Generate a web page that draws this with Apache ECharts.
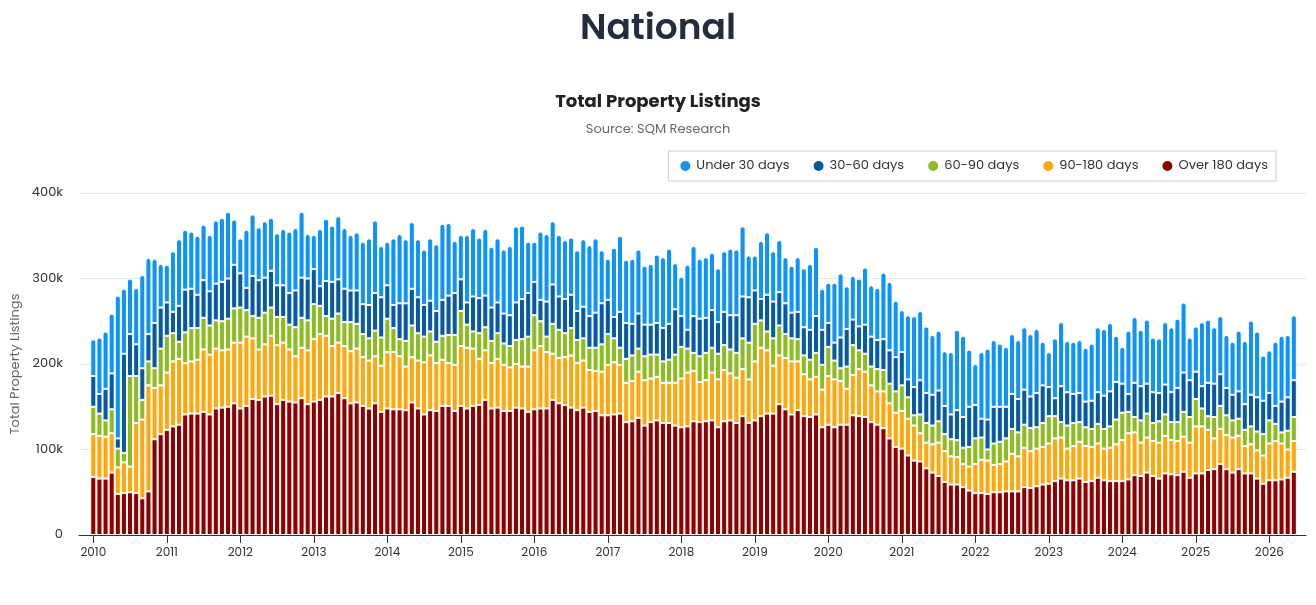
<!DOCTYPE html>
<html>
<head>
<meta charset="utf-8">
<script src="https://cdn.jsdelivr.net/npm/echarts@6/dist/echarts.min.js"></script>
<style>
html,body{margin:0;padding:0;background:#fff;}
#chart{width:1316px;height:605px;}
</style>
</head>
<body>
<div id="chart"></div>
<script>
// Values in thousands of listings, monthly from Jan 2010 to May 2026
const over180 = [
68,66,66,73,48,49,50,49,43,51,
112,118,123,127,129,141,142,142,144,141,
148,149,150,154,148,151,159,158,162,163,
153,158,156,155,160,153,156,158,162,162,
166,160,154,155,151,148,154,144,148,147,
147,146,155,148,141,146,145,151,151,145,
151,148,151,152,158,148,149,145,145,149,
148,144,147,148,148,158,154,152,149,146,
149,144,145,140,140,141,142,132,133,137,
128,132,134,131,131,128,126,127,133,132,
133,134,126,133,134,131,139,131,134,139,
142,142,153,147,141,146,139,138,141,126,
129,126,129,129,140,139,138,132,129,125,
113,103,101,93,87,86,78,73,69,62,
59,59,56,52,49,49,48,50,50,51,
51,51,56,55,57,59,60,63,66,64,
64,66,62,63,67,64,63,63,63,65,
70,69,73,69,66,72,71,70,74,67,
72,72,76,77,83,77,73,77,72,72,
66,60,64,64,65,67,74];
const d90to180 = [
50,50,49,46,31,36,30,82,92,124,
60,57,67,76,77,60,61,63,73,70,
70,67,67,71,77,81,71,59,61,70,
69,67,61,54,59,63,73,77,71,59,
59,61,61,63,57,56,55,54,66,67,
62,51,53,56,61,64,56,54,50,54,
70,71,67,54,58,53,57,54,51,51,
49,53,69,73,66,54,53,56,61,55,
55,49,47,51,59,61,57,46,47,54,
53,51,51,47,47,50,57,63,59,47,
48,56,56,60,55,53,55,51,69,80,
74,56,57,60,62,57,49,44,44,44,
57,56,51,42,47,55,53,43,39,43,
41,40,44,43,41,33,30,33,39,36,
33,32,27,28,34,39,39,32,33,35,
44,41,46,43,44,44,47,50,48,37,
40,43,42,40,40,37,39,43,48,54,
50,39,41,41,42,44,40,40,41,41,
55,55,47,36,41,40,41,39,32,34,
33,33,43,46,42,33,36];
const d60to90 = [
32,26,19,28,22,11,106,55,23,28,
23,43,43,33,20,36,39,37,37,34,
33,34,36,40,41,31,26,37,37,33,
33,30,29,34,35,35,41,33,23,32,
34,28,34,29,27,26,30,33,39,28,
20,30,37,32,30,28,25,28,33,35,
41,27,20,30,27,26,30,25,25,28,
32,35,41,29,18,35,33,28,32,27,
26,26,27,32,36,28,20,28,30,27,
28,28,26,25,27,33,37,28,21,30,
32,29,30,29,28,29,36,43,44,32,
22,32,35,28,27,26,22,23,28,29,
34,22,15,26,35,22,21,22,26,25,
23,25,30,25,12,22,23,22,25,20,
20,20,19,23,30,26,13,25,26,27,
29,28,27,27,25,28,32,26,18,27,
27,23,22,21,23,23,25,29,32,25,
18,26,28,21,25,25,21,22,29,30,
32,21,16,25,27,23,20,20,19,21,
22,25,27,20,13,22,28];
const d30to60 = [
36,23,37,42,12,116,49,37,37,32,
53,48,39,25,42,50,46,39,44,40,
43,46,47,51,40,26,47,44,41,43,
37,37,37,43,47,49,41,23,41,43,
40,39,37,39,35,39,44,47,39,27,
42,44,43,42,37,36,36,42,46,49,
37,26,41,41,37,39,36,35,36,44,
47,51,39,25,41,46,39,40,39,34,
37,37,41,48,40,25,42,42,37,41,
37,35,37,39,42,53,36,22,43,44,
41,44,37,39,40,44,49,53,39,25,
43,43,39,36,30,32,33,35,43,41,
28,21,36,44,30,28,34,35,34,36,
39,40,39,21,33,40,35,36,36,33,
29,35,36,47,39,22,35,43,41,37,
41,39,41,37,40,44,34,21,42,39,
34,34,30,33,37,39,41,44,34,21,
40,40,35,36,33,35,35,40,46,43,
32,26,39,39,37,32,30,32,30,37,
40,39,32,21,36,39,43];
const under30 = [
43,66,67,70,167,76,65,66,109,89,
75,51,44,71,78,70,67,69,65,66,
74,75,78,53,41,68,72,62,66,62,
61,66,72,73,77,52,40,67,73,66,
74,71,65,68,73,78,85,60,51,78,
81,75,78,68,65,73,78,89,85,61,
52,79,80,71,78,71,75,75,81,89,
86,60,47,80,79,74,72,69,67,71,
79,83,87,62,48,81,89,74,76,75,
69,71,80,83,88,54,46,76,82,70,
71,67,63,71,78,77,82,49,41,68,
73,59,61,54,55,64,69,77,81,48,
47,70,75,50,51,56,67,60,61,78,
80,66,49,75,83,81,78,70,70,64,
73,94,95,67,48,78,83,78,74,70,
70,69,73,73,75,51,41,70,75,60,
61,62,63,67,76,78,80,54,43,74,
77,66,75,64,64,73,76,81,82,50,
53,75,74,66,68,62,62,71,74,87,
77,53,50,75,77,73,76];

const startYear = 2010;
// month categories, one per bar (Jan 2010 ...)
const months = over180.map((_, i) => {
  const y = startYear + Math.floor(i / 12);
  const m = (i % 12) + 1;
  return y + '-' + (m < 10 ? '0' + m : m);
});
const yearLabels = ['2010','2011','2012','2013','2014','2015','2016','2017','2018','2019','2020','2021','2022','2023','2024','2025','2026'];
const yearTickPos = yearLabels.map(y => (parseInt(y, 10) - startYear) * 12);

const seriesDefs = [
  { name: 'Over 180 days', values: over180, color: '#8c0000' },
  { name: '90-180 days', values: d90to180, color: '#ffa80d' },
  { name: '60-90 days', values: d60to90, color: '#8cbb22' },
  { name: '30-60 days', values: d30to60, color: '#075aa2' },
  { name: 'Under 30 days', values: under30, color: '#0f93f7' }
];

const FONT = 'Poppins, Inter, "Noto Sans", sans-serif';
const chart = echarts.init(document.getElementById('chart'), null, { renderer: 'canvas' });

// Frame grid (axes, ticks, gridlines) and bar grid (month bands) share the same vertical scale.
const FRAME_L = 79, FRAME_R = 1306;
const PX_PER_MONTH = 6.125;
const FIRST_CENTER = 93.3;
const frameMin = (FRAME_L - FIRST_CENTER) / PX_PER_MONTH;
const frameMax = (FRAME_R - FIRST_CENTER) / PX_PER_MONTH;
const barL = FIRST_CENTER - PX_PER_MONTH / 2;
const barR = barL + PX_PER_MONTH * months.length;

chart.setOption({
  animation: false,
  backgroundColor: '#ffffff',
  textStyle: { fontFamily: FONT },
  title: [
    { text: 'National', left: 'center', top: 7,
      textStyle: { fontSize: 36, fontWeight: 600, color: '#232d3b', fontFamily: FONT } },
    { text: 'Total Property Listings', subtext: 'Source: SQM Research', left: 'center', top: 88, itemGap: 12,
      textStyle: { fontSize: 18, fontWeight: 700, color: '#222', fontFamily: FONT },
      subtextStyle: { fontSize: 13, color: '#666', fontFamily: FONT } }
  ],
  legend: {
    data: ['Under 30 days', '30-60 days', '60-90 days', '90-180 days', 'Over 180 days'],
    right: 40, top: 151,
    icon: 'circle', itemWidth: 12, itemHeight: 12, itemGap: 22,
    borderColor: '#cccccc', borderWidth: 1, borderRadius: 0,
    padding: [8, 8, 8, 10],
    textStyle: { fontSize: 13, color: '#333', fontFamily: FONT }
  },
  grid: [
    { left: FRAME_L, right: 1316 - FRAME_R, top: 193, bottom: 70, containLabel: false },
    { left: barL, right: 1316 - barR, top: 193, bottom: 70, containLabel: false }
  ],
  xAxis: [
    {
      gridIndex: 0, type: 'value',
      min: frameMin, max: frameMax,
      splitLine: { show: false },
      axisLine: { show: true, lineStyle: { color: '#333', width: 1 } },
      axisTick: { show: true, length: 8, lineStyle: { color: '#333' }, customValues: yearTickPos },
      axisLabel: {
        customValues: yearTickPos, margin: 12, fontSize: 12, color: '#333', fontFamily: FONT,
        formatter: v => yearLabels[Math.round(v / 12)]
      }
    },
    {
      gridIndex: 1, type: 'category', data: months, boundaryGap: true,
      axisLine: { show: false }, axisTick: { show: false }, axisLabel: { show: false },
      splitLine: { show: false }
    }
  ],
  yAxis: [
    {
      gridIndex: 0, type: 'value', min: 0, max: 400, interval: 100,
      name: 'Total Property Listings', nameLocation: 'middle', nameGap: 57,
      nameMoveOverlap: false,
      nameTextStyle: { fontSize: 13, color: '#666', fontFamily: FONT },
      axisLine: { show: false }, axisTick: { show: false },
      axisLabel: { margin: 16, fontSize: 13, color: '#333', fontFamily: FONT,
        formatter: v => v === 0 ? '0' : v + 'k' },
      splitLine: { lineStyle: { color: '#e6e6e6' } }
    },
    {
      gridIndex: 1, type: 'value', min: 0, max: 400, interval: 100,
      axisLine: { show: false }, axisTick: { show: false }, axisLabel: { show: false },
      splitLine: { show: false }
    }
  ],
  series: seriesDefs.map((s, si) => ({
    name: s.name,
    type: 'bar',
    stack: 'total',
    xAxisIndex: 1, yAxisIndex: 1,
    barWidth: 6.1,
    itemStyle: {
      color: s.color, borderColor: '#ffffff', borderWidth: 1,
      borderRadius: si === seriesDefs.length - 1 ? [3, 3, 0, 0] : 0
    },
    data: s.values
  }))
});
</script>
</body>
</html>
